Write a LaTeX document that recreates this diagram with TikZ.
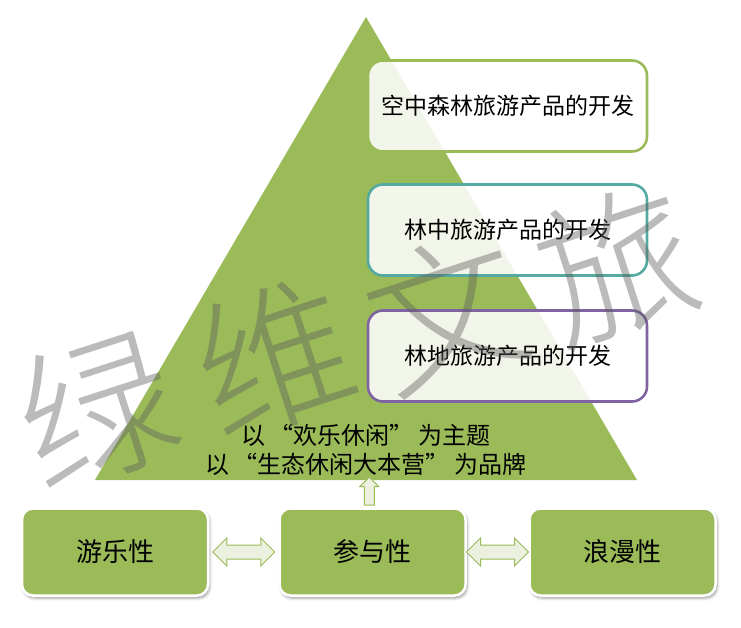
\documentclass[tikz,border=0pt]{standalone}
\usepackage{fontspec}
\newfontfamily\cjk{Noto Sans CJK SC}
\newfontfamily\wmfont{Noto Sans CJK SC}[UprightFont={* Light}]
\usetikzlibrary{shapes.arrows,shadows.blur,calc}
\definecolor{olive}{RGB}{155,187,89}
\definecolor{tealb}{RGB}{84,170,160}
\definecolor{purpb}{RGB}{128,100,162}
\definecolor{lightg}{RGB}{235,241,222}
\definecolor{wmgray}{RGB}{92,92,92}
\newcommand{\myopenq}{\makebox[1.2em][r]{“}}
\newcommand{\myclosq}{\makebox[1.2em][l]{”}}
\tikzset{
  topbox/.style={draw, line width=2.6pt, rounded corners=15pt, fill=white, fill opacity=0.88, text opacity=1,
    minimum width=279pt, minimum height=91pt, font=\cjk\fontsize{23}{27}\selectfont, text=black},
  basebox/.style={fill=olive, draw=white, line width=2.5pt, rounded corners=11pt,
    minimum width=186pt, minimum height=87pt, font=\cjk\fontsize{26}{30}\selectfont, text=black,
    blur shadow={shadow xshift=1.5pt, shadow yshift=-2.5pt, shadow blur radius=3pt, shadow opacity=40}},
  dblarrow/.style={double arrow, draw=olive, line width=1pt, fill=lightg, minimum height=62pt,
    minimum width=27pt, inner sep=6.5pt, double arrow head extend=7pt},
  uparrow/.style={single arrow, draw=olive, line width=1pt, fill=lightg, minimum height=28pt,
    minimum width=19pt, inner sep=4.5pt, single arrow head extend=4.5pt, shape border rotate=90},
  wm/.style={font=\wmfont\fontsize{156}{156}\selectfont, text=wmgray, text opacity=0.42, rotate=18},
  midtext/.style={font=\cjk\fontsize{24}{29}\selectfont, align=center, text=black}
}
\begin{document}
\begin{tikzpicture}[x=1pt,y=-1pt]
\useasboundingbox (0,0) rectangle (741,628);
\coordinate (apex) at (366,17);
\coordinate (bl) at (95,480);
\coordinate (br) at (637,480);
\coordinate (basemid) at (366,480);
\fill[olive] (apex) -- (bl) -- (br) -- cycle;

\node[topbox, draw=olive] (t1) at (507.5,106) {空中森林旅游产品的开发};
\node[topbox, draw=tealb] (t2) at (507.5,230) {林中旅游产品的开发};
\node[topbox, draw=purpb] (t3) at (507.5,356) {林地旅游产品的开发};

\node[midtext] (theme) at (366,450) {以\myopenq 欢乐休闲\myclosq 为主题\\以\myopenq 生态休闲大本营\myclosq 为品牌};

\node[basebox] (b1) at (115,552) {游乐性};
\node[basebox] (b2) at (372.5,552) {参与性};
\node[basebox] (b3) at (622.5,552) {浪漫性};

\node[dblarrow] (a1) at ($(b1.east)!0.5!(b2.west)$) {};
\node[dblarrow] (a2) at ($(b2.east)!0.5!(b3.west)$) {};
\node[uparrow] (a3) at ($(b2.north)!0.5!(basemid)$) {};

\node[wm] (w1) at (97,410) {绿};
\node[wm] (w2) at (274,358) {维};
\node[wm] (w3) at (446,312) {文};
\node[wm] (w4) at (616,265) {旅};
\end{tikzpicture}
\end{document}
